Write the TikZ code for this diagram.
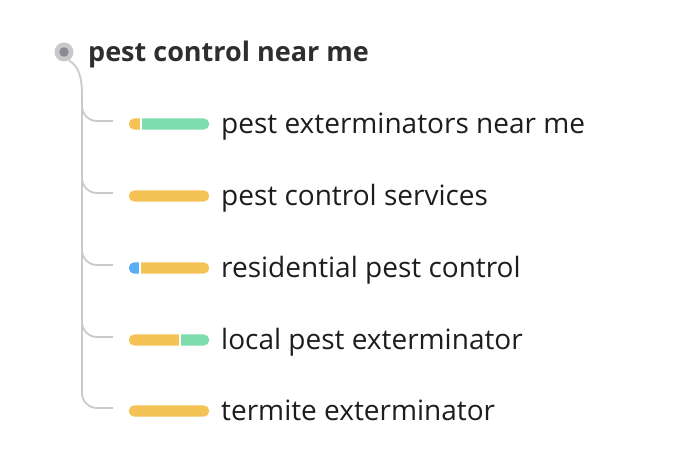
\documentclass[tikz,border=0pt]{standalone}
\usepackage{fontspec}
\setmainfont{Open Sans}
\definecolor{tline}{HTML}{C9C9CE}
\definecolor{dotout}{HTML}{C8C8CC}
\definecolor{dotin}{HTML}{8A8A8E}
\definecolor{byel}{HTML}{F5C355}
\definecolor{bgrn}{HTML}{7EDCAE}
\definecolor{bblu}{HTML}{5AAEF5}
\definecolor{txt}{HTML}{1D1D1F}
\definecolor{roottxt}{HTML}{2E2E30}
\tikzset{
  tree/.style={draw=tline, line width=1.8pt},
  branch/.style={tree, rounded corners=15pt},
  barbox/.style={rectangle, minimum width=80pt, minimum height=11pt, inner sep=0pt, draw=none},
  lbl/.style={anchor=base west, inner sep=0pt, text=txt, font=\fontsize{28}{32}\selectfont},
  roottext/.style={anchor=base west, inner sep=0pt, text=roottxt, font=\fontsize{27}{32}\selectfont\bfseries},
}
\begin{document}
\begin{tikzpicture}[x=1pt,y=-1pt]
\useasboundingbox (0,0) rectangle (678,470);
% root
\node[circle, fill=dotout, minimum size=19pt, inner sep=0pt] (root) at (64,52) {};
\node[circle, fill=dotin, minimum size=9.5pt, inner sep=0pt] at (root) {};
\node[roottext] (roottxt) at (88,62) {pest control near me};
% bars
\foreach \i/\y in {1/124,2/196,3/268,4/340,5/411}{
  \node[barbox] (bar\i) at (169,\y) {};
  \coordinate (b\i) at (113,\y-3);
}
% trunk
\coordinate (tk) at (82,95);
\draw[tree] (root.-60) .. controls (79,66) and (82,78) .. (tk);
\foreach \i in {1,...,5}{
  \draw[branch] (tk) |- (b\i);
}
% bar fills
\begin{scope}
\clip[rounded corners=5.5pt] (bar1.south west) rectangle (bar1.north east);
\fill[byel] (129,100) rectangle (140,150);
\fill[bgrn] (141.8,100) rectangle (210,150);
\end{scope}
\fill[byel, rounded corners=5.5pt] (bar2.south west) rectangle (bar2.north east);
\begin{scope}
\clip[rounded corners=5.5pt] (bar3.south west) rectangle (bar3.north east);
\fill[bblu] (129,250) rectangle (139,290);
\fill[byel] (140.8,250) rectangle (210,290);
\end{scope}
\begin{scope}
\clip[rounded corners=5.5pt] (bar4.south west) rectangle (bar4.north east);
\fill[byel] (129,320) rectangle (179,360);
\fill[bgrn] (180.8,320) rectangle (210,360);
\end{scope}
\fill[byel, rounded corners=5.5pt] (bar5.south west) rectangle (bar5.north east);
% labels
\node[lbl] (l1) at (221,133.5) {pest exterminators near me};
\node[lbl] (l2) at (221,205.5) {pest control services};
\node[lbl] (l3) at (221,277.5) {residential pest control};
\node[lbl] (l4) at (221,349.5) {local pest exterminator};
\node[lbl] (l5) at (221,420.5) {termite exterminator};
\end{tikzpicture}
\end{document}
